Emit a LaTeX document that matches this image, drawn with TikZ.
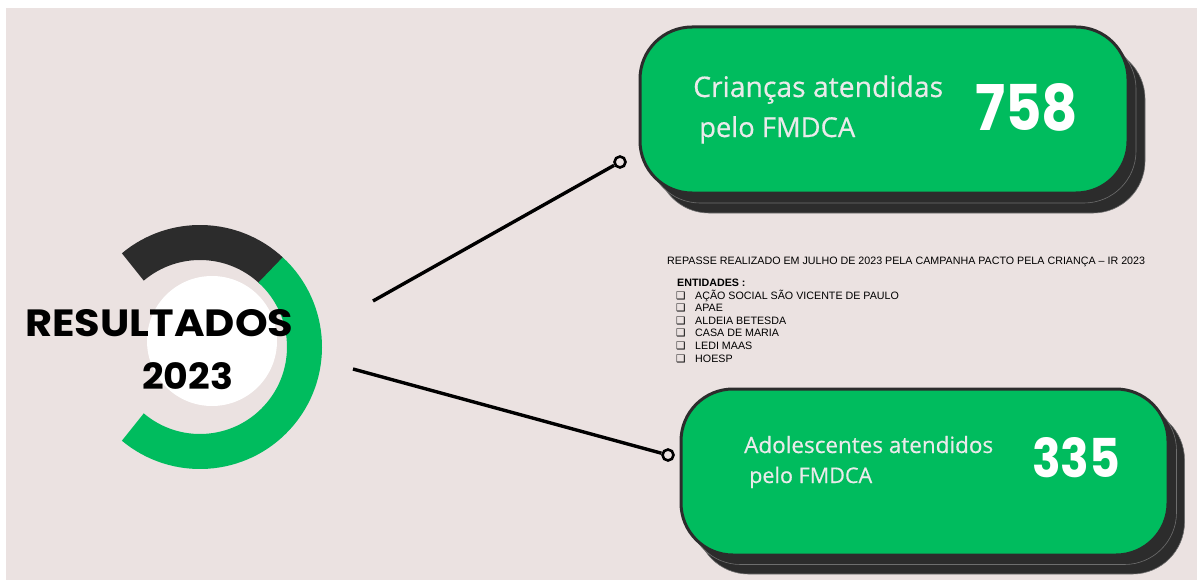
\documentclass[tikz,border=0pt]{standalone}
\usepackage{fontspec}
\usepackage{graphicx}
\setmainfont{Liberation Sans}
\newfontfamily\poppfont{Poppins}
\newfontfamily\opensfont{Open Sans}[FakeBold=0.5]
\newfontfamily\djvfont{DejaVu Sans}
\definecolor{bg}{HTML}{EBE2E1}
\definecolor{gr}{HTML}{00BC5E}
\definecolor{dk}{HTML}{2C2C2C}
\definecolor{shline}{HTML}{6E6E6E}
\definecolor{lbl}{HTML}{EAEAEA}
\begin{document}
\begin{tikzpicture}[x=1pt,y=-1pt,
  cardbox/.style={rectangle, rounded corners=52pt, minimum width=488pt, minimum height=166pt, inner sep=0pt},
  shadowbox/.style={cardbox, fill=dk, draw=shline, line width=0.6pt},
  mainbox/.style={cardbox, fill=gr, draw=dk, line width=3pt},
  lbltext/.style={anchor=base west, inner sep=0pt, text=lbl},
  numtext/.style={anchor=south west, inner sep=0pt, text=white},
  dot/.style={circle, draw=black, line width=2.6pt, fill=bg, minimum size=11pt, inner sep=0pt},
  conn/.style={draw=black, line width=3.4pt},
  smalltext/.style={anchor=base west, inner sep=0pt, font=\fontsize{10.7pt}{12pt}\selectfont},
  bullet/.style={anchor=base west, inner sep=0pt, font=\djvfont\bfseries\fontsize{10.5pt}{11pt}\selectfont}
]
\path[use as bounding box] (0,0) rectangle (1199,583);
\fill[white] (0,0) rectangle (1199,583);
\fill[bg] (6,8) rectangle (1197,580);

% ring
\coordinate (rc) at (200,347);
\draw[dk, line width=35pt] (rc) ++(-130:104.5) arc[start angle=-130, end angle=-47, radius=104.5];
\draw[gr, line width=35pt] (rc) ++(-47.5:104.5) arc[start angle=-47.5, end angle=130, radius=104.5];
\fill[white] (212,341) circle[radius=65];
\node[anchor=south west, inner sep=0pt] (res) at (25,337) {\resizebox{268pt}{27pt}{\poppfont\bfseries RESULTADOS}};
\node[anchor=south west, inner sep=0pt] (yr) at (142,390) {\resizebox{91pt}{27pt}{\poppfont\bfseries 2023}};

% card 1
\node[shadowbox] (s1b) at (901,130) {};
\node[shadowbox] (s1a) at (892,120) {};
\node[mainbox] (b1) at (884,110) {};
\node[lbltext] (t1a) at (693,97) {\resizebox{250pt}{!}{\opensfont Crianças atendidas}};
\node[lbltext] (t1b) at (699,137) {\resizebox{156pt}{!}{\opensfont pelo FMDCA}};
\node[numtext] (n1) at (975,132) {\resizebox{103pt}{47pt}{\poppfont\bfseries 758}};

% card 2
\node[shadowbox] (s2b) at (940.5,491) {};
\node[shadowbox] (s2a) at (932.5,481.5) {};
\node[mainbox, minimum width=487pt] (b2) at (924.5,472) {};
\node[lbltext] (t2a) at (744,453) {\resizebox{249pt}{!}{\opensfont Adolescentes atendidos}};
\node[lbltext] (t2b) at (749,483) {\resizebox{123pt}{!}{\opensfont pelo FMDCA}};
\node[numtext] (n2) at (1032,478) {\resizebox{88pt}{40pt}{\poppfont\bfseries 335}};

% connectors
\coordinate (p1) at (373,301);
\coordinate (p2) at (353,369);
\node[dot] (c1) at (620,162) {};
\node[dot] (c2) at (668,455) {};
\draw[conn] (p1) -- (c1);
\draw[conn] (p2) -- (c2);

% middle text
\node[smalltext] (rep) at (667,264) {REPASSE REALIZADO EM JULHO DE 2023 PELA CAMPANHA PACTO PELA CRIANÇA – IR 2023};
\node[smalltext, font=\bfseries\fontsize{10.7pt}{12pt}\selectfont] (ent) at (677,286) {ENTIDADES :};
\node[bullet] (q1) at (676,299) {❑};
\node[smalltext] (e1) at (695,299) {AÇÃO SOCIAL SÃO VICENTE DE PAULO};
\node[bullet] (q2) at (676,311.6) {❑};
\node[smalltext] (e2) at (695,311.6) {APAE};
\node[bullet] (q3) at (676,324.2) {❑};
\node[smalltext] (e3) at (695,324.2) {ALDEIA BETESDA};
\node[bullet] (q4) at (676,336.8) {❑};
\node[smalltext] (e4) at (695,336.8) {CASA DE MARIA};
\node[bullet] (q5) at (676,349.4) {❑};
\node[smalltext] (e5) at (695,349.4) {LEDI MAAS};
\node[bullet] (q6) at (676,362) {❑};
\node[smalltext] (e6) at (695,362) {HOESP};
\end{tikzpicture}
\end{document}
